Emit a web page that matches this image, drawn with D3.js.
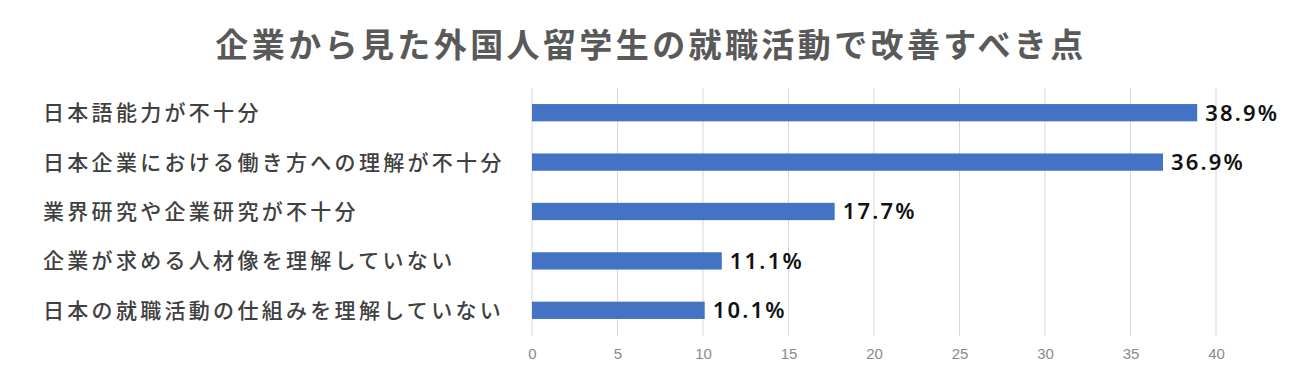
<!DOCTYPE html>
<html><head><meta charset="utf-8">
<script src="https://cdn.jsdelivr.net/npm/d3@7"></script>
<style>body{margin:0;background:#fff}svg{display:block}</style>
</head><body>
<script>
const title = "企業から見た外国人留学生の就職活動で改善すべき点";
const categories = ["日本語能力が不十分","日本企業における働き方への理解が不十分","業界研究や企業研究が不十分","企業が求める人材像を理解していない","日本の就職活動の仕組みを理解していない"];
const values = [38.9, 36.9, 17.7, 11.1, 10.1];
const valueLabels = ["38.9%","36.9%","17.7%","11.1%","10.1%"];
const ticks = [0,5,10,15,20,25,30,35,40];

const W=1300,H=386;
const svg=d3.select("body").append("svg").attr("width",W).attr("height",H);
const jp="'Noto Sans CJK JP','Noto Sans',sans-serif";
svg.append("text").attr("x",651).attr("y",57).attr("text-anchor","middle")
  .attr("font-family",jp).attr("font-weight",700).attr("font-size",33)
  .attr("letter-spacing",3.4).attr("fill","#595959").text(title);

const x=d3.scaleLinear().domain([0,40]).range([532,1216]);
const y=d3.scaleBand().domain(categories).range([88,335]).paddingInner(0.65).paddingOuter(0.325);

const grid=svg.append("g");
grid.selectAll("line").data(ticks).join("line")
  .attr("x1",d=>x(d)).attr("x2",d=>x(d)).attr("y1",88).attr("y2",336)
  .attr("stroke","#d9d9d9").attr("stroke-width",1);

const ax=svg.append("g").attr("transform","translate(0,336)")
  .call(d3.axisBottom(x).tickValues(ticks).tickSize(0).tickPadding(12));
ax.select(".domain").remove();
ax.selectAll("text").attr("font-family","'Liberation Sans Narrow','Liberation Sans',sans-serif")
  .attr("font-size",15).attr("fill","#8a8a8a");

svg.append("g").selectAll("rect").data(values).join("rect")
  .attr("x",x(0)).attr("y",(d,i)=>y(categories[i]))
  .attr("width",d=>x(d)-x(0)).attr("height",y.bandwidth())
  .attr("fill","#4472c4");

svg.append("g").selectAll("text").data(values).join("text")
  .attr("x",d=>x(d)+8).attr("y",(d,i)=>y(categories[i])+y.bandwidth()/2)
  .attr("dy","0.36em").attr("font-family","'Noto Sans',sans-serif").attr("font-weight",600)
  .attr("font-size",22).attr("letter-spacing",2.2).attr("fill","#111")
  .text((d,i)=>valueLabels[i]);

svg.append("g").selectAll("text").data(categories).join("text")
  .attr("x",43).attr("y",d=>y(d)+y.bandwidth()/2).attr("dy","0.36em")
  .attr("font-family",jp).attr("font-weight",500).attr("font-size",21)
  .attr("letter-spacing",3.3).attr("fill","#404040").text(d=>d);
</script>
</body></html>
